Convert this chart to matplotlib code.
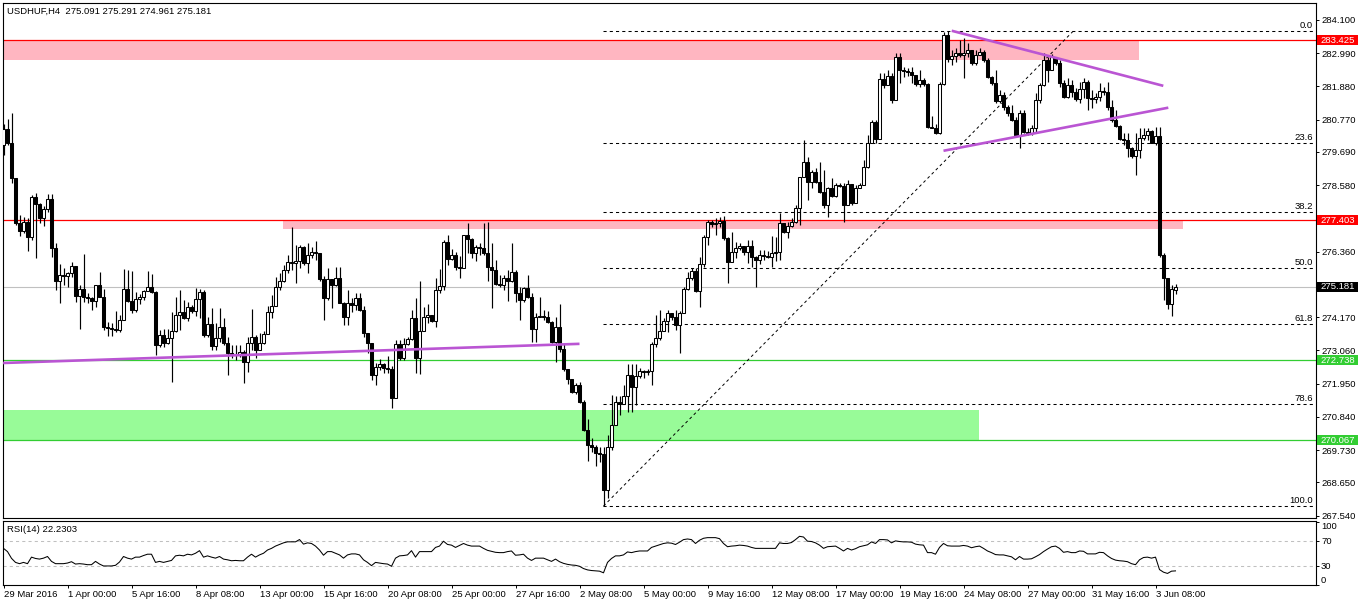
import matplotlib
matplotlib.use('Agg')
import matplotlib.pyplot as plt
import matplotlib.transforms as mtrans
from matplotlib.patches import Rectangle
import numpy as np

plt.rcParams['font.family'] = ['Liberation Sans', 'DejaVu Sans']

# ---------------- data ----------------
symbol_header = "USDHUF,H4  275.091 275.291 274.961 275.181"
rsi_header = "RSI(14) 22.2303"

opens = [
 279.93, 280.46, 279.99, 278.82, 277.32, 277.05, 277.35, 276.85, 278.19, 277.96,
 277.49, 277.79, 278.12, 276.49, 275.38, 275.58, 275.55, 275.65, 275.88, 274.88,
 275.12, 274.85, 274.82, 274.72, 275.25, 274.85, 273.85, 273.81, 273.78, 273.75,
 274.08, 275.12, 274.72, 274.42, 274.78, 274.85, 275.05, 275.18, 275.02, 273.25,
 273.58, 273.31, 273.48, 273.71, 274.25, 274.35, 274.15, 274.52, 274.38, 274.78,
 275.02, 273.58, 273.95, 273.21, 273.48, 273.85, 273.31, 272.98, 272.95, 272.91,
 273.01, 272.68, 273.31, 273.51, 273.08, 273.31, 273.61, 274.35, 274.55, 275.18,
 275.38, 275.75, 276.02, 275.98, 276.05, 276.52, 275.98, 276.25, 276.35, 276.32,
 275.45, 274.82, 275.45, 275.25, 275.48, 274.65, 274.18, 274.65, 274.58, 274.82,
 274.42, 273.65, 273.31, 272.24, 272.51, 272.61, 272.47, 272.44, 271.47, 273.28,
 272.81, 273.28, 273.45, 274.15, 272.81, 273.71, 274.18, 274.25, 274.05, 275.08,
 275.22, 276.69, 276.12, 276.25, 275.85, 275.81, 276.92, 276.79, 276.32, 276.52,
 276.49, 276.32, 275.85, 275.75, 275.28, 275.25, 275.48, 275.38, 275.68, 274.98,
 274.75, 275.15, 274.85, 273.78, 274.18, 274.21, 274.18, 274.01, 273.34, 273.85,
 273.11, 272.44, 272.11, 271.67, 271.91, 271.33, 270.40, 269.90, 269.83, 269.63,
 269.60, 268.40, 269.83, 270.56, 271.33, 271.27, 271.53, 272.24, 271.84, 272.21,
 272.38, 272.34, 272.38, 273.28, 273.48, 273.71, 274.05, 274.32, 274.18, 273.91,
 274.32, 275.12, 275.48, 275.72, 275.05, 275.95, 276.85, 277.35, 277.29, 277.32,
 277.39, 276.82, 276.02, 276.35, 276.49, 276.55, 276.35, 276.55, 276.18, 276.08,
 276.25, 276.22, 276.18, 276.32, 276.35, 277.32, 277.02, 277.22, 277.35, 277.82,
 278.86, 279.36, 278.69, 279.02, 278.69, 278.36, 277.92, 278.49, 278.22, 278.59,
 278.56, 277.92, 278.62, 277.99, 278.49, 278.59, 279.19, 279.99, 280.70, 280.13,
 282.13, 281.93, 282.23, 281.43, 282.87, 282.43, 282.40, 282.36, 282.26, 281.96,
 282.10, 281.96, 280.53, 280.49, 280.33, 281.96, 283.60, 282.80, 282.90, 283.00,
 282.93, 283.00, 283.10, 282.67, 282.93, 283.03, 282.77, 282.20, 281.99, 281.39,
 281.59, 281.19, 280.99, 280.76, 280.26, 280.99, 280.36, 280.33, 280.49, 281.43,
 281.93, 282.77, 282.43, 282.87, 282.67, 281.99, 281.53, 281.93, 281.70, 281.46,
 281.80, 282.03, 281.50, 281.46, 281.53, 281.73, 281.70, 281.19, 280.76, 280.56,
 280.13, 280.09, 279.82, 279.56, 279.76, 280.16, 280.26, 280.39, 279.99, 280.23,
 276.25, 275.48, 274.62, 275.091]

highs = [
 280.63, 280.79, 280.99, 278.82, 277.59, 277.52, 277.49, 278.26, 278.32, 277.99,
 277.89, 278.29, 278.29, 276.65, 275.95, 275.81, 275.68, 276.02, 275.88, 275.25,
 276.29, 274.98, 274.85, 275.25, 275.68, 275.12, 274.01, 273.98, 274.38, 274.25,
 275.78, 275.75, 275.72, 275.02, 274.95, 275.08, 275.72, 275.62, 275.05, 273.75,
 273.78, 273.78, 274.35, 274.85, 275.08, 274.75, 274.68, 274.58, 275.15, 275.12,
 275.08, 274.18, 274.48, 273.98, 274.48, 274.15, 273.51, 273.25, 273.25, 273.25,
 273.08, 273.51, 274.45, 273.58, 273.65, 273.71, 274.55, 274.92, 275.52, 275.65,
 275.92, 276.25, 277.19, 276.59, 276.59, 276.55, 276.65, 276.52, 276.72, 276.32,
 275.55, 275.81, 275.38, 275.85, 275.85, 274.68, 275.08, 274.82, 274.98, 274.98,
 274.55, 273.65, 273.31, 272.64, 272.78, 272.64, 272.88, 272.54, 273.41, 273.41,
 273.48, 273.51, 274.42, 274.82, 275.38, 274.52, 274.62, 274.21, 275.48, 275.78,
 276.75, 276.92, 276.45, 276.35, 276.22, 276.92, 277.32, 276.82, 276.59, 276.65,
 277.32, 277.35, 276.65, 276.08, 275.58, 275.58, 275.75, 276.65, 275.75, 275.18,
 275.18, 275.58, 274.98, 274.32, 274.85, 274.42, 274.38, 274.05, 274.18, 274.62,
 273.31, 272.41, 271.87, 271.97, 272.01, 271.40, 270.77, 270.13, 269.90, 269.83,
 269.83, 270.23, 271.57, 271.53, 271.53, 271.91, 272.61, 272.61, 272.61, 272.47,
 272.41, 272.44, 273.34, 274.25, 274.42, 274.15, 274.42, 274.32, 274.42, 274.38,
 275.18, 275.68, 275.81, 275.81, 276.18, 276.92, 277.42, 277.42, 277.49, 277.52,
 277.55, 276.85, 277.02, 276.69, 276.65, 276.55, 276.75, 276.75, 276.22, 276.42,
 276.42, 276.39, 276.89, 276.85, 277.65, 277.32, 277.35, 277.49, 277.92, 278.86,
 280.09, 279.53, 279.09, 279.16, 279.36, 279.09, 278.52, 278.82, 278.66, 278.66,
 278.66, 278.76, 278.62, 278.59, 278.66, 279.43, 280.26, 280.76, 280.76, 282.33,
 282.33, 282.43, 282.33, 283.00, 283.00, 282.53, 282.50, 282.53, 282.26, 282.43,
 282.16, 281.99, 280.89, 280.63, 282.03, 283.70, 283.74, 283.10, 283.17, 283.43,
 283.50, 283.33, 283.00, 283.10, 283.17, 283.10, 282.83, 282.23, 282.43, 281.76,
 281.70, 281.26, 281.26, 280.86, 281.09, 281.09, 280.49, 280.59, 281.66, 281.99,
 283.00, 282.87, 282.97, 282.87, 282.77, 282.10, 282.16, 282.10, 281.83, 282.03,
 282.16, 282.10, 281.76, 281.66, 281.99, 281.86, 282.03, 281.43, 281.09, 280.59,
 280.33, 280.33, 279.86, 280.33, 280.49, 280.49, 280.49, 280.43, 280.53, 280.53,
 276.32, 275.48, 275.25, 275.291]

lows = [
 279.59, 279.93, 278.66, 277.25, 276.89, 276.99, 276.39, 276.75, 276.15, 277.32,
 277.22, 277.69, 276.18, 275.08, 274.65, 275.25, 275.18, 275.52, 274.68, 273.78,
 274.68, 274.65, 274.42, 274.52, 274.85, 273.75, 273.55, 273.55, 273.68, 273.68,
 274.08, 274.68, 274.32, 274.35, 274.62, 274.75, 275.05, 274.98, 272.91, 273.18,
 273.18, 273.28, 272.01, 273.68, 273.75, 274.12, 274.05, 274.32, 274.21, 274.15,
 273.51, 273.51, 273.08, 273.08, 273.34, 273.25, 272.24, 272.81, 272.74, 272.84,
 271.97, 272.34, 273.08, 272.81, 273.08, 273.28, 273.61, 274.15, 274.55, 275.08,
 275.35, 275.65, 275.75, 275.32, 275.81, 275.92, 275.65, 276.15, 276.08, 275.38,
 274.08, 274.75, 274.48, 275.22, 274.65, 273.91, 273.91, 274.35, 274.42, 274.38,
 273.51, 272.98, 272.07, 271.91, 272.41, 272.31, 272.31, 271.13, 271.73, 272.74,
 272.74, 273.25, 273.41, 272.31, 272.27, 273.91, 273.98, 274.01, 273.85, 274.98,
 275.08, 275.92, 276.08, 275.75, 275.48, 275.85, 276.32, 276.15, 276.05, 276.25,
 276.25, 275.38, 274.48, 275.25, 275.18, 275.08, 274.72, 275.35, 274.68, 274.08,
 274.68, 274.82, 273.34, 273.34, 274.18, 274.08, 273.98, 273.31, 272.68, 273.01,
 272.37, 271.94, 271.64, 271.60, 271.30, 270.37, 269.36, 269.66, 269.19, 269.33,
 267.86, 268.13, 269.73, 270.56, 270.90, 271.27, 271.00, 271.00, 271.23, 272.14,
 272.14, 272.24, 271.91, 273.18, 273.41, 273.71, 273.68, 274.08, 273.75, 272.98,
 274.32, 275.08, 275.42, 275.02, 274.52, 275.85, 276.59, 277.19, 276.92, 277.19,
 276.75, 275.32, 276.02, 276.15, 276.42, 276.25, 275.98, 275.85, 275.18, 275.95,
 276.08, 276.15, 275.85, 276.05, 276.08, 276.99, 276.82, 277.19, 277.32, 277.25,
 278.86, 278.09, 278.49, 278.66, 278.32, 277.82, 277.52, 278.19, 278.19, 278.52,
 277.35, 277.92, 277.92, 277.99, 278.49, 278.59, 279.16, 279.99, 279.99, 280.26,
 281.83, 281.93, 281.33, 281.43, 281.99, 282.20, 282.23, 281.99, 281.90, 281.86,
 281.90, 280.49, 280.49, 280.29, 280.29, 281.93, 282.70, 282.60, 282.70, 282.87,
 282.16, 282.87, 282.60, 282.60, 282.93, 282.70, 282.16, 281.93, 281.33, 281.33,
 281.09, 280.89, 280.73, 280.19, 279.82, 280.33, 280.26, 280.26, 280.36, 281.33,
 281.90, 282.03, 282.43, 282.60, 281.86, 281.49, 281.49, 281.53, 281.39, 281.33,
 281.49, 281.09, 281.16, 281.33, 281.39, 281.59, 281.09, 280.69, 280.53, 280.09,
 279.93, 279.53, 279.49, 278.92, 279.49, 280.09, 280.09, 279.99, 279.93, 276.18,
 274.75, 274.45, 274.21, 274.961]

closes = [
 280.46, 279.99, 278.82, 277.32, 277.05, 277.35, 276.85, 278.19, 277.96, 277.49,
 277.79, 278.12, 276.49, 275.38, 275.58, 275.55, 275.65, 275.88, 274.88, 275.12,
 274.85, 274.82, 274.72, 275.25, 274.85, 273.85, 273.81, 273.78, 273.75, 274.08,
 275.12, 274.72, 274.42, 274.78, 274.85, 275.05, 275.18, 275.02, 273.25, 273.58,
 273.31, 273.48, 273.71, 274.25, 274.35, 274.15, 274.52, 274.38, 274.78, 275.02,
 273.58, 273.95, 273.21, 273.48, 273.85, 273.31, 272.98, 272.95, 272.91, 273.01,
 272.68, 273.31, 273.51, 273.08, 273.31, 273.61, 274.35, 274.55, 275.18, 275.38,
 275.75, 276.02, 275.98, 276.05, 276.52, 275.98, 276.25, 276.35, 276.32, 275.45,
 274.82, 275.45, 275.25, 275.48, 274.65, 274.18, 274.65, 274.58, 274.82, 274.42,
 273.65, 273.31, 272.24, 272.51, 272.61, 272.47, 272.44, 271.47, 273.28, 272.81,
 273.28, 273.45, 274.15, 272.81, 273.71, 274.18, 274.25, 274.05, 275.08, 275.22,
 276.69, 276.12, 276.25, 275.85, 275.81, 276.92, 276.79, 276.32, 276.52, 276.49,
 276.32, 275.85, 275.75, 275.28, 275.25, 275.48, 275.38, 275.68, 274.98, 274.75,
 275.15, 274.85, 273.78, 274.18, 274.21, 274.18, 274.01, 273.34, 273.85, 273.11,
 272.44, 272.11, 271.67, 271.91, 271.33, 270.40, 269.90, 269.83, 269.63, 269.60,
 268.40, 269.83, 270.56, 271.33, 271.27, 271.53, 272.24, 271.84, 272.21, 272.38,
 272.34, 272.38, 273.28, 273.48, 273.71, 274.05, 274.32, 274.18, 273.91, 274.32,
 275.12, 275.48, 275.72, 275.05, 275.95, 276.85, 277.35, 277.29, 277.32, 277.39,
 276.82, 276.02, 276.35, 276.49, 276.55, 276.35, 276.55, 276.18, 276.08, 276.25,
 276.22, 276.18, 276.32, 276.35, 277.32, 277.02, 277.22, 277.35, 277.82, 278.86,
 279.36, 278.69, 279.02, 278.69, 278.36, 277.92, 278.49, 278.22, 278.59, 278.56,
 277.92, 278.62, 277.99, 278.49, 278.59, 279.19, 279.99, 280.70, 280.13, 282.13,
 281.93, 282.23, 281.43, 282.87, 282.43, 282.40, 282.36, 282.26, 281.96, 282.10,
 281.96, 280.53, 280.49, 280.33, 281.96, 283.60, 282.80, 282.90, 283.00, 282.93,
 283.00, 283.10, 282.67, 282.93, 283.03, 282.77, 282.20, 281.99, 281.39, 281.59,
 281.19, 280.99, 280.76, 280.26, 280.99, 280.36, 280.33, 280.49, 281.43, 281.93,
 282.77, 282.43, 282.87, 282.67, 281.99, 281.53, 281.93, 281.70, 281.46, 281.80,
 282.03, 281.50, 281.46, 281.53, 281.73, 281.70, 281.19, 280.76, 280.56, 280.13,
 280.09, 279.82, 279.56, 279.76, 280.16, 280.26, 280.39, 279.99, 280.23, 276.25,
 275.48, 274.62, 275.12, 275.181]

rsi = [
 57.7, 52.6, 42.0, 35.6, 33.6, 35.6, 33.6, 43.9, 41.8, 40.8,
 42.3, 44.9, 37.2, 33.6, 33.6, 33.6, 34.6, 36.7, 33.0, 33.6,
 33.0, 32.0, 32.0, 37.2, 33.0, 30.0, 30.0, 30.0, 31.0, 36.2,
 44.9, 42.3, 40.8, 43.9, 43.9, 46.4, 48.5, 48.5, 35.6, 37.2,
 35.6, 37.2, 38.7, 45.9, 46.9, 45.9, 48.5, 47.4, 50.0, 54.1,
 43.9, 45.9, 43.9, 42.3, 44.9, 40.8, 39.7, 38.2, 38.7, 38.2,
 38.2, 43.9, 48.5, 43.9, 47.4, 50.0, 55.1, 57.7, 61.3, 63.9,
 66.4, 68.0, 68.0, 68.0, 71.6, 64.4, 66.4, 65.4, 61.3, 55.1,
 46.9, 52.6, 52.6, 50.0, 47.4, 42.3, 47.4, 49.0, 49.0, 47.4,
 39.7, 35.6, 30.5, 35.6, 34.6, 33.6, 33.0, 29.5, 42.3, 45.9,
 46.4, 47.4, 54.1, 43.9, 52.6, 52.6, 52.6, 52.6, 59.2, 61.3,
 69.0, 63.9, 62.8, 59.2, 62.3, 65.4, 62.8, 61.3, 61.3, 61.3,
 57.7, 54.6, 53.1, 51.5, 51.0, 51.0, 52.6, 53.6, 46.9, 47.4,
 48.5, 42.3, 38.7, 42.3, 42.3, 42.3, 39.7, 37.2, 40.8, 36.7,
 34.1, 32.5, 31.5, 31.0, 29.5, 25.9, 23.8, 22.8, 22.3, 21.8,
 19.2, 35.6, 41.8, 45.9, 45.9, 47.4, 52.1, 51.0, 52.6, 53.6,
 53.6, 53.6, 59.2, 61.3, 63.3, 65.4, 66.4, 65.9, 63.8, 67.4,
 71.5, 72.5, 71.5, 65.4, 70.5, 73.6, 74.6, 74.6, 74.6, 73.0,
 65.4, 60.3, 61.3, 61.8, 62.8, 62.3, 61.3, 59.2, 57.7, 57.7,
 57.7, 57.7, 57.7, 57.7, 66.4, 65.4, 65.4, 66.9, 71.5, 76.7,
 75.6, 69.0, 68.5, 66.4, 62.8, 57.7, 60.3, 60.8, 61.3, 57.7,
 53.6, 57.7, 55.1, 57.2, 60.3, 61.8, 63.3, 67.9, 65.4, 71.5,
 71.5, 71.0, 66.4, 69.5, 68.5, 67.9, 67.9, 67.4, 64.4, 63.3,
 62.8, 51.0, 51.0, 48.5, 59.2, 65.4, 61.8, 61.3, 61.3, 61.3,
 62.3, 61.3, 58.7, 60.3, 61.3, 57.7, 53.6, 51.0, 47.9, 47.4,
 47.4, 45.9, 44.4, 39.7, 44.9, 40.8, 40.8, 41.3, 44.4, 47.9,
 52.6, 56.6, 60.3, 61.3, 57.7, 51.5, 52.6, 51.0, 51.0, 53.6,
 53.1, 49.0, 49.0, 49.0, 51.5, 51.0, 45.9, 41.8, 39.2, 38.2,
 37.7, 36.7, 33.6, 32.0, 39.7, 43.3, 43.9, 42.3, 43.9, 24.3,
 20.2, 18.2, 21.8, 22.23]

date_labels = ["29 Mar 2016", "1 Apr 00:00", "5 Apr 16:00", "8 Apr 08:00",
               "13 Apr 00:00", "15 Apr 16:00", "20 Apr 08:00", "25 Apr 00:00",
               "27 Apr 16:00", "2 May 08:00", "5 May 00:00", "9 May 16:00",
               "12 May 08:00", "17 May 00:00", "19 May 16:00", "24 May 08:00",
               "27 May 00:00", "31 May 16:00", "3 Jun 08:00"]
date_label_step = 16

price_ticks = [284.100, 282.990, 281.880, 280.770, 279.690, 278.580, 276.360,
               274.170, 273.060, 271.950, 270.840, 269.730, 268.650, 267.540]

resistance_1 = 283.425
resistance_1_low = 282.76
resistance_2 = 277.403
resistance_2_low = 277.10
support_1 = 272.738
support_2 = 270.067
support_2_high = 271.06
last_price = 275.181

fib_high = 283.74
fib_low = 267.86
fib_ratios = [0.0, 0.236, 0.382, 0.5, 0.618, 0.786, 1.0]
fib_names = ["0.0", "23.6", "38.2", "50.0", "61.8", "78.6", "100.0"]

# trend lines (bar index, price)
april_line = [(-0.1, 272.64), (144.0, 273.28)]
tri_upper = [(237.05, 283.74), (289.95, 281.90)]
tri_lower = [(235.0, 279.73), (291.2, 281.17)]
fib_diag = [(150.0, 267.86), (267.3, 283.71)]

# ---------------- figure ----------------
W, H = 1358, 606
fig = plt.figure(figsize=(W / 100, H / 100), dpi=100, facecolor='white')

def fx(px):
    return px / W

def fy(py):
    return 1 - py / H

L, R = 2.5, 1315.5
ax = fig.add_axes([fx(L), fy(517.5), fx(R) - fx(L), fy(2.5) - fy(517.5)])
axr = fig.add_axes([fx(L), fy(585.0), fx(R) - fx(L), fy(520.5) - fy(585.0)])

XMIN, XMAX = -0.25, 328.0
FS = 6.8

o = np.array(opens)
h = np.array(highs)
l = np.array(lows)
c = np.array(closes)
n = len(c)
x = np.arange(n)
hi = np.maximum(h, np.maximum(o, c))
lo = np.minimum(l, np.minimum(o, c))
up = c >= o

ax.set_xlim(XMIN, XMAX)
ax.set_ylim(267.478, 284.684)

# zones
RED = '#ff0000'
PINK = '#ffb6c1'
GREEN = '#32cd32'
PGREEN = '#98fb98'
PURPLE = '#ba55d3'

ax.add_patch(Rectangle((XMIN, resistance_1_low), 283.8 - XMIN, resistance_1 - resistance_1_low,
                       facecolor=PINK, edgecolor='none', zorder=0.5))
ax.add_patch(Rectangle((69.9, resistance_2_low), 294.8 - 69.9, resistance_2 - resistance_2_low,
                       facecolor=PINK, edgecolor='none', zorder=0.5))
ax.add_patch(Rectangle((XMIN, support_2), 243.9 - XMIN, support_2_high - support_2,
                       facecolor=PGREEN, edgecolor='none', zorder=0.5))

ax.axhline(resistance_1, color=RED, lw=0.9, zorder=1)
ax.axhline(resistance_2, color=RED, lw=0.9, zorder=1)
ax.axhline(support_1, color=GREEN, lw=0.9, zorder=1)
ax.axhline(support_2, color=GREEN, lw=0.9, zorder=1)
ax.axhline(last_price, color='#c0c0c0', lw=0.8, zorder=1)

# fibonacci
fx0, fx1 = 149.8, 327.6
for r, name in zip(fib_ratios, fib_names):
    lev = fib_high - r * (fib_high - fib_low)
    ax.plot([fx0, fx1], [lev, lev], color='black', lw=0.75, ls=(0, (3, 3)), zorder=1.2)
    ax.annotate(name, xy=(327.4, lev), xytext=(0, 0.8), textcoords='offset points',
                ha='right', va='bottom', fontsize=FS, color='black')
ax.plot([p[0] for p in fib_diag], [p[1] for p in fib_diag], color='black', lw=0.7,
        ls=(0, (3, 3)), zorder=1.2)

# candles
ax.vlines(x, lo, hi, color='black', lw=0.85, zorder=2)
bw = 0.6
ax.bar(x[up], (c - o)[up], bottom=o[up], width=bw, facecolor='white',
       edgecolor='black', linewidth=0.75, zorder=3)
ax.bar(x[~up], (o - c)[~up], bottom=c[~up], width=bw, facecolor='black',
       edgecolor='black', linewidth=0.75, zorder=3)

# trend lines
for seg in (april_line, tri_upper, tri_lower):
    ax.plot([p[0] for p in seg], [p[1] for p in seg], color=PURPLE, lw=1.9,
            solid_capstyle='butt', zorder=4)

# axes styling main
ax.set_xticks([])
ax.yaxis.tick_right()
ax.set_yticks(price_ticks)
ax.set_yticklabels(["%.3f" % v for v in price_ticks])
ax.tick_params(axis='y', which='both', direction='out', length=2.2, width=0.7,
               pad=1.8, labelsize=FS, colors='black')
for sp in ax.spines.values():
    sp.set_linewidth(0.8)
    sp.set_color('black')

# colored price boxes on right scale
btrans = mtrans.blended_transform_factory(fig.transFigure, ax.transData)
half = 5.0 / 29.93
for val, col in ((resistance_1, RED), (resistance_2, RED), (last_price, '#000000'),
                 (support_1, GREEN), (support_2, GREEN)):
    rect = Rectangle((fx(1316.5), val - half), fx(1358) - fx(1316.5), 2 * half,
                     transform=btrans, facecolor=col, edgecolor='none',
                     clip_on=False, zorder=10)
    ax.add_artist(rect)
    ax.text(fx(1320.8), val, "%.3f" % val, transform=btrans, color='white',
            fontsize=FS, ha='left', va='center', clip_on=False, zorder=11)

# header text
fig.text(fx(7), fy(11), symbol_header, fontsize=FS, ha='left', va='center', color='black')

# ---------------- RSI ----------------
axr.set_xlim(XMIN, XMAX)
axr.set_ylim(0.8, 101.6)
axr.plot(x, rsi, color='black', lw=0.75, zorder=3)
for lv in (30, 70):
    axr.axhline(lv, color='#c0c0c0', lw=0.75, ls=(0, (3, 3)), zorder=1)
axr.yaxis.tick_right()
axr.set_yticks([0, 30, 70, 100])
axr.set_yticklabels(['0', '30', '70', '100'])
axr.tick_params(axis='y', direction='out', length=2.2, width=0.7, pad=1.8,
                labelsize=FS, colors='black')
for lbl in axr.get_yticklabels():
    if lbl.get_text() == '100':
        lbl.set_va('top')
    elif lbl.get_text() == '0':
        lbl.set_va('bottom')
for sp in axr.spines.values():
    sp.set_linewidth(0.8)
    sp.set_color('black')

tick_pos = [i * date_label_step for i in range(len(date_labels))]
axr.set_xticks(tick_pos)
axr.set_xticklabels(date_labels)
axr.tick_params(axis='x', direction='out', length=2.2, width=0.7, pad=1.5,
                labelsize=FS, colors='black')
for lbl in axr.get_xticklabels():
    lbl.set_ha('left')

fig.text(fx(7), fy(529.5), rsi_header, fontsize=FS, ha='left', va='center', color='black')

fig.savefig('out.png', dpi=100, facecolor='white')
